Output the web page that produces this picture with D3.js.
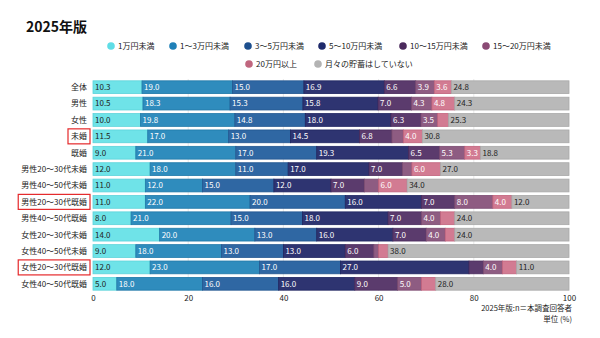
<!DOCTYPE html>
<meta charset="utf-8" />
<script src="https://d3js.org/d3.v7.min.js"></script>
<style>
  body { margin: 0; background: #fff; }
  svg { font-family: "Noto Sans CJK JP", "Noto Sans", sans-serif; }
</style>
<body>
<div id="chart"></div>
<script>
  // savings groups and the share (%) of each monthly amount
  const groups = ["全体", "男性", "女性", "未婚", "既婚",
    "男性20～30代未婚", "男性40～50代未婚", "男性20～30代既婚", "男性40～50代既婚",
    "女性20～30代未婚", "女性40～50代未婚", "女性20～30代既婚", "女性40～50代既婚"];
  const highlighted = ["未婚", "男性20～30代既婚", "女性20～30代既婚"];
  const categories = ["1万円未満", "1～3万円未満", "3～5万円未満", "5～10万円未満",
    "10～15万円未満", "15～20万円未満", "20万円以上", "月々の貯蓄はしていない"];

  const under1 = [10.3, 10.5, 10.0, 11.5, 9.0, 12.0, 11.0, 11.0, 8.0, 14.0, 9.0, 12.0, 5.0];
  const from1to3 = [19.0, 18.3, 19.8, 17.0, 21.0, 18.0, 12.0, 22.0, 21.0, 20.0, 18.0, 23.0, 18.0];
  const from3to5 = [15.0, 15.3, 14.8, 13.0, 17.0, 11.0, 15.0, 20.0, 15.0, 13.0, 13.0, 17.0, 16.0];
  const from5to10 = [16.9, 15.8, 18.0, 14.5, 19.3, 17.0, 12.0, 16.0, 18.0, 16.0, 13.0, 27.0, 16.0];
  const from10to15 = [6.6, 7.0, 6.3, 6.8, 6.5, 7.0, 7.0, 7.0, 7.0, 7.0, 6.0, 3.0, 9.0];
  const from15to20 = [3.9, 4.3, 3.5, 2.4, 5.3, 2.0, 3.0, 8.0, 4.0, 4.0, 1.0, 4.0, 5.0];
  const over20 = [3.6, 4.8, 2.3, 4.0, 3.3, 6.0, 6.0, 4.0, 3.0, 2.0, 2.0, 3.0, 3.0];
  const noSaving = [24.8, 24.3, 25.3, 30.8, 18.8, 27.0, 34.0, 12.0, 24.0, 24.0, 38.0, 11.0, 28.0];
  const xTicks = [0, 20, 40, 60, 80, 100];

  const series = [under1, from1to3, from3to5, from5to10, from10to15, from15to20, over20, noSaving];
  const dotColors = ["#5fdde6", "#1f80b8", "#1d4f8e", "#1f2a6b", "#4b2a5c", "#8a4a74", "#c0667e", "#b3b3b3"];
  const fills = ["#6fe3e8", "#2f8cbd", "#2f67a3", "#2e3471", "#5b3b6d", "#8e5c82", "#d27b92", "#b9b9b9"];
  const strokes = ["#5cd3da", "#1f78a8", "#235690", "#1f2560", "#4a2b5c", "#7a4a70", "#c0627c", "#a9a9a9"];
  const textColors = ["#222", "#fff", "#fff", "#fff", "#fff", "#fff", "#fff", "#222"];

  const width = 600, height = 338;
  const svg = d3.select("#chart").append("svg")
    .attr("width", width).attr("height", height);

  const x = d3.scaleLinear().domain([0, 100]).range([93, 569]);
  const y = d3.scaleBand().domain(groups).range([80, 291]).paddingInner(0.22).paddingOuter(0.05);

  // title
  svg.append("text")
    .attr("x", 26).attr("y", 32)
    .attr("font-size", 14).attr("font-weight", "bold").attr("fill", "#111")
    .text("2025年版");

  // legend, two rows
  const legendPos = [[111, 46], [173, 46], [248, 46], [322, 46], [403, 46], [486, 46], [249, 64], [318, 64]];
  const legend = svg.append("g").selectAll("g")
    .data(categories)
    .join("g")
    .attr("transform", (d, i) => `translate(${legendPos[i][0]},${legendPos[i][1]})`);
  legend.append("circle").attr("r", 3.8).attr("fill", (d, i) => dotColors[i]);
  legend.append("text")
    .attr("x", 7).attr("dy", "0.35em")
    .attr("font-size", 8).attr("fill", "#222")
    .text(d => d);

  // grid lines behind the bars
  svg.append("g").selectAll("line")
    .data(xTicks.slice(1, -1))
    .join("line")
    .attr("x1", d => x(d)).attr("x2", d => x(d))
    .attr("y1", 79).attr("y2", 291)
    .attr("stroke", "#e2e2e2").attr("stroke-width", 0.8);

  // stacked bars
  const rows = groups.map((g, i) => {
    let acc = 0;
    return series.map((s, k) => {
      const seg = { group: g, k: k, v: s[i], x0: acc, x1: acc + s[i] };
      acc += s[i];
      return seg;
    });
  });

  const bars = svg.append("g");
  rows.forEach(row => {
    const g = bars.append("g");
    g.selectAll("rect")
      .data(row)
      .join("rect")
      .attr("x", d => x(d.x0))
      .attr("y", d => y(d.group))
      .attr("width", d => Math.max(0, Math.min(x(d.x1), x(100)) - x(d.x0)))
      .attr("height", y.bandwidth())
      .attr("fill", d => fills[d.k])
      .attr("stroke", d => strokes[d.k])
      .attr("stroke-width", 0.8);
    g.selectAll("text")
      .data(row.filter(d => d.v > 3))
      .join("text")
      .attr("x", d => x(d.x0) + 2)
      .attr("y", d => y(d.group) + y.bandwidth() / 2)
      .attr("dy", "0.36em")
      .attr("font-size", 8)
      .attr("fill", d => textColors[d.k])
      .text(d => d.v.toFixed(1));
  });

  // group labels
  const labels = svg.append("g").selectAll("text")
    .data(groups)
    .join("text")
    .attr("x", 87)
    .attr("y", d => y(d) + y.bandwidth() / 2)
    .attr("dy", "0.36em")
    .attr("text-anchor", "end")
    .attr("font-size", 8)
    .attr("fill", "#222")
    .text(d => d);

  // red frames around the highlighted groups
  labels.filter(d => highlighted.includes(d)).each(function(d) {
    const b = this.getBBox();
    svg.append("rect")
      .attr("x", b.x - 3).attr("y", y(d) + y.bandwidth() / 2 - 7.5)
      .attr("width", b.width + 6).attr("height", 15)
      .attr("fill", "none").attr("stroke", "#e5282a").attr("stroke-width", 1.2);
  });

  // x axis tick labels
  svg.append("g")
    .attr("transform", "translate(0,290)")
    .call(d3.axisBottom(x).tickValues(xTicks).tickSize(0).tickPadding(5))
    .call(g => g.select(".domain").remove())
    .call(g => g.selectAll("text")
      .attr("font-size", 8).attr("fill", "#222")
      .attr("font-family", "\"Noto Sans CJK JP\", sans-serif"));

  // footnote
  svg.append("text")
    .attr("x", 572).attr("y", 311)
    .attr("text-anchor", "end").attr("font-size", 7.5).attr("fill", "#222")
    .text("2025年版:n＝本調査回答者");
  svg.append("text")
    .attr("x", 572).attr("y", 322)
    .attr("text-anchor", "end").attr("font-size", 7.5).attr("fill", "#222")
    .text("単位 (%)");
</script>
</body>
